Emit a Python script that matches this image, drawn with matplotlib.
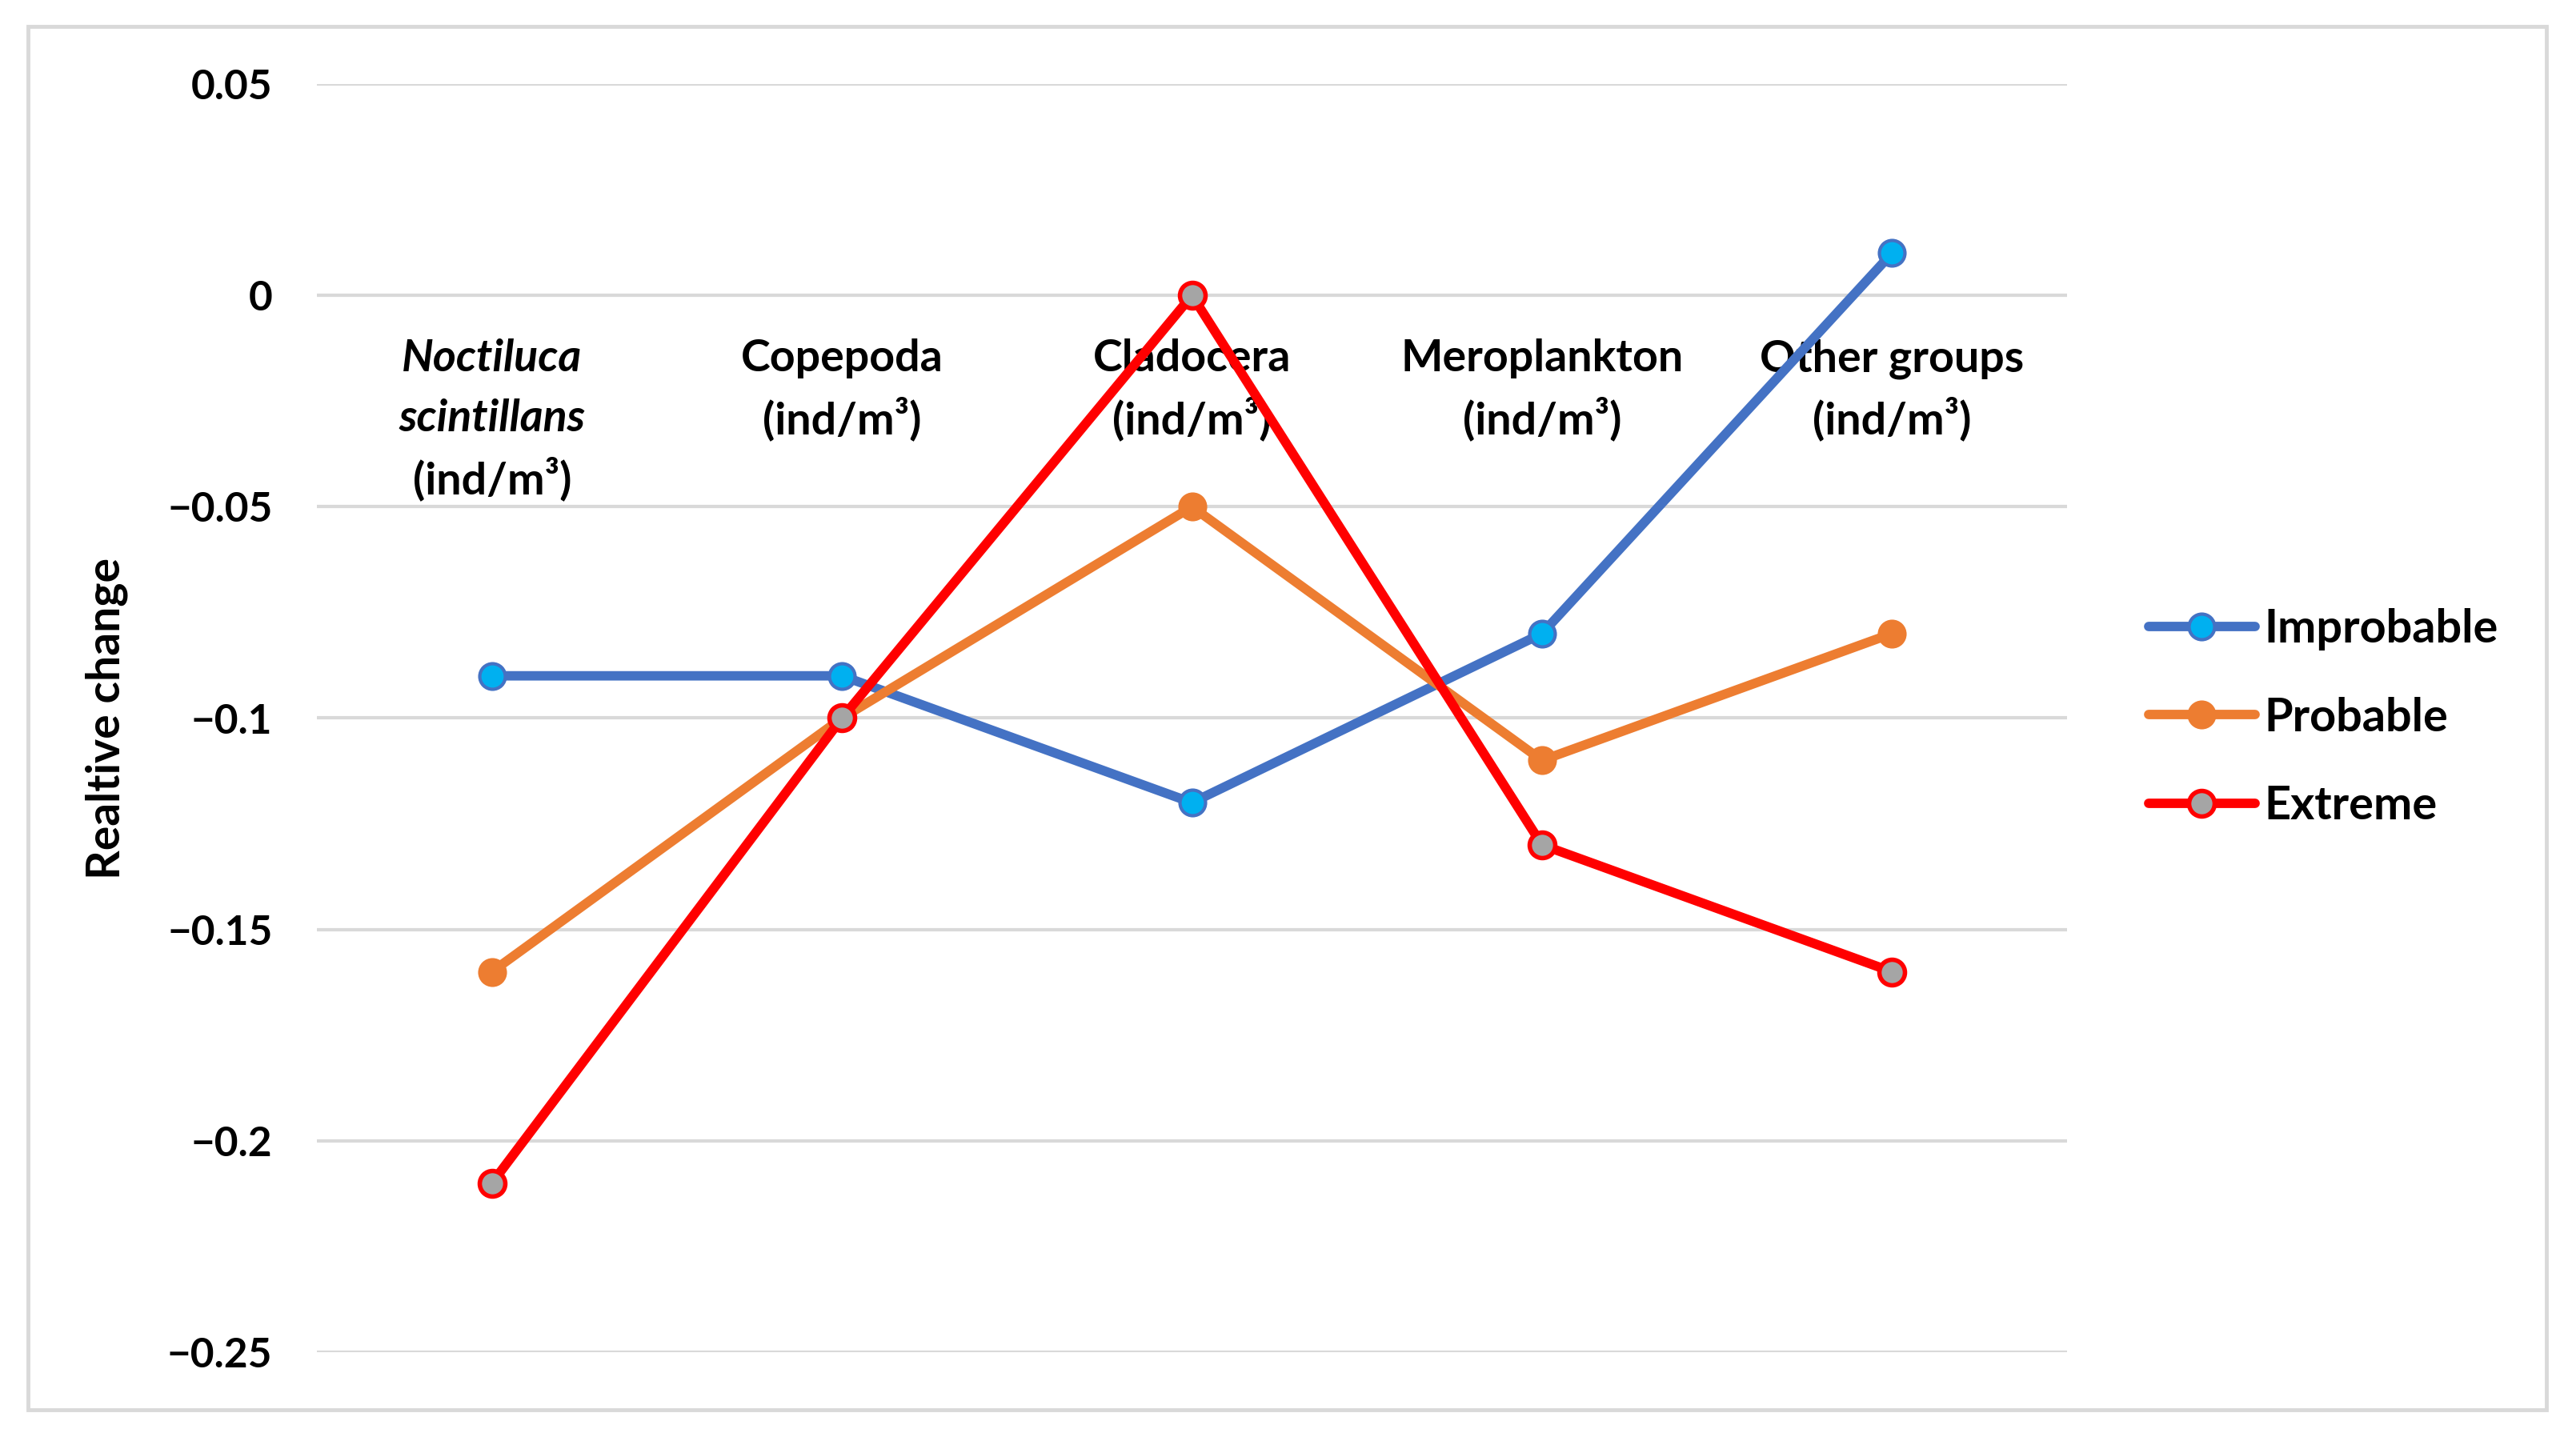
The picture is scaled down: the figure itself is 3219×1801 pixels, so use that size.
import matplotlib
matplotlib.use("Agg")
import matplotlib.pyplot as plt
from matplotlib.patches import Rectangle

plt.rcParams['font.family'] = ['Lato', 'DejaVu Sans']

categories = ["Noctiluca\nscintillans", "Copepoda", "Cladocera", "Meroplankton", "Other groups"]
italic_cats = [True, False, False, False, False]
unit = "(ind/m³)"

improbable = [-0.09, -0.09, -0.12, -0.08, 0.01]
probable = [-0.16, -0.10, -0.05, -0.11, -0.08]
extreme = [-0.21, -0.10, 0.00, -0.13, -0.16]

yticks = [0.05, 0, -0.05, -0.1, -0.15, -0.2, -0.25]
ytick_labels = ["0.05", "0", "\u22120.05", "\u22120.1", "\u22120.15", "\u22120.2", "\u22120.25"]

W, H, DPI = 3219, 1801, 100
fig = plt.figure(figsize=(W / DPI, H / DPI), dpi=DPI)
ax = fig.add_axes([396 / W, 1 - 1690 / H, (2583 - 396) / W, (1690 - 105) / H])

# outer chart border
fig.patches.append(Rectangle((35 / W, 1 - 1762 / H), (3182 - 35) / W, (1762 - 33) / H,
                             transform=fig.transFigure, fill=False,
                             edgecolor="#D9D9D9", linewidth=3.5))

x = list(range(len(categories)))
FS = 37
CAT_FS = 40

ax.plot(x, improbable, color="#4472C4", lw=8.5, marker="o", ms=23,
        mfc="#00B0F0", mec="#4472C4", mew=3, label="Improbable",
        solid_capstyle="round", zorder=3)
ax.plot(x, probable, color="#ED7D31", lw=8.5, marker="o", ms=23,
        mfc="#ED7D31", mec="#ED7D31", mew=3, label="Probable",
        solid_capstyle="round", zorder=3)
ax.plot(x, extreme, color="#FF0000", lw=8.5, marker="o", ms=23,
        mfc="#A5A5A5", mec="#FF0000", mew=4, label="Extreme",
        solid_capstyle="round", zorder=4)

ax.set_xlim(-0.5, len(categories) - 0.5)
ax.set_ylim(-0.25, 0.05)
ax.set_yticks(yticks)
ax.set_yticklabels(ytick_labels, fontsize=FS, fontweight="bold")
ax.tick_params(axis="y", length=0, pad=40)
ax.set_xticks([])
ax.grid(axis="y", color="#D9D9D9", linewidth=3)
ax.set_axisbelow(True)
for s in ax.spines.values():
    s.set_visible(False)

ax.set_ylabel("Realtive change", fontsize=41, fontweight="bold")
ax.yaxis.set_label_coords(-0.108, 0.5)

# category labels below the zero line
offsets = [57, 111, 165]
for i, (cat, it) in enumerate(zip(categories, italic_cats)):
    lines = cat.split("\n")
    for j, ln in enumerate(lines):
        ax.annotate(ln, xy=(i, 0), xytext=(0, -offsets[j]), textcoords="offset points",
                    ha="center", va="center", fontsize=CAT_FS, fontweight="bold",
                    fontstyle="italic" if it else "normal", zorder=2)
    ax.annotate(unit, xy=(i, 0), xytext=(0, -offsets[len(lines)]), textcoords="offset points",
                ha="center", va="center", fontsize=CAT_FS, fontweight="bold", zorder=2)

fig.legend(loc="center left", bbox_to_anchor=(2685 / W, 1 - 897 / H), frameon=False,
           prop={"weight": "bold", "size": 41.5}, handlelength=2.3,
           handletextpad=0.2, labelspacing=1.0, borderpad=0, borderaxespad=0)

fig.savefig("out.png", dpi=DPI)
